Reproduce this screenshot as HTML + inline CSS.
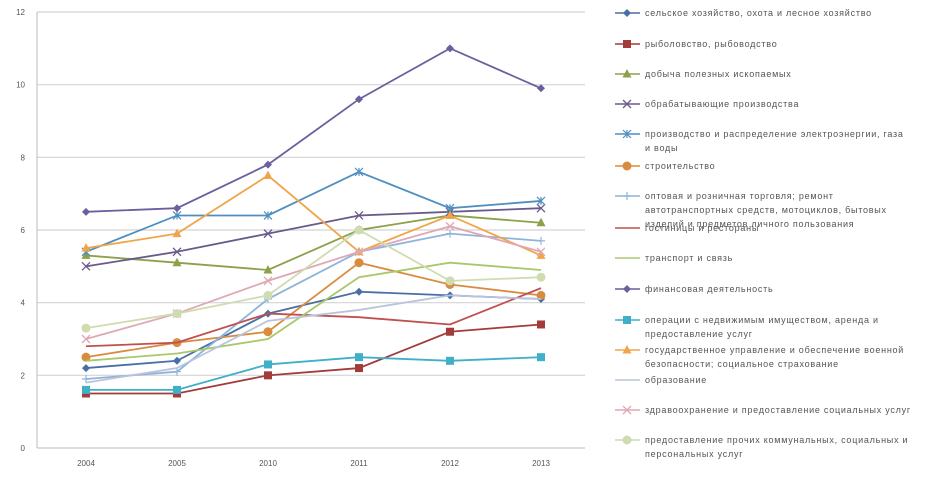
<!DOCTYPE html>
<html><head><meta charset="utf-8">
<style>
html,body{margin:0;padding:0;background:#fff;}
svg{display:block;font-family:"Liberation Sans","DejaVu Sans",sans-serif;}
</style></head>
<body>
<svg id="chart" width="946" height="494" viewBox="0 0 946 494" xmlns="http://www.w3.org/2000/svg">
<g id="grid"></g>
<g id="axes"></g>
<g id="series"></g>
<g id="legend"></g>
</svg>
<script>
const categories = ["2004","2005","2010","2011","2012","2013"];
const yTicks = [0,2,4,6,8,10,12];
const sAgri = [2.2,2.4,3.7,4.3,4.2,4.1];
const sFish = [1.5,1.5,2.0,2.2,3.2,3.4];
const sMining = [5.3,5.1,4.9,6.0,6.4,6.2];
const sManuf = [5.0,5.4,5.9,6.4,6.5,6.6];
const sElec = [5.4,6.4,6.4,7.6,6.6,6.8];
const sConstr = [2.5,2.9,3.2,5.1,4.5,4.2];
const sTrade = [1.9,2.1,4.1,5.4,5.9,5.7];
const sHotels = [2.8,2.9,3.7,3.6,3.4,4.4];
const sTransport = [2.4,2.6,3.0,4.7,5.1,4.9];
const sFinance = [6.5,6.6,7.8,9.6,11.0,9.9];
const sRealty = [1.6,1.6,2.3,2.5,2.4,2.5];
const sGov = [5.5,5.9,7.5,5.4,6.4,5.3];
const sEdu = [1.8,2.2,3.5,3.8,4.2,4.1];
const sHealth = [3.0,3.7,4.6,5.4,6.1,5.4];
const sOther = [3.3,3.7,4.2,6.0,4.6,4.7];
const seriesNames = [
 ["сельское хозяйство, охота и лесное хозяйство"],
 ["рыболовство, рыбоводство"],
 ["добыча полезных ископаемых"],
 ["обрабатывающие производства"],
 ["производство и распределение электроэнергии, газа","и воды"],
 ["строительство"],
 ["оптовая и розничная торговля; ремонт","автотранспортных средств, мотоциклов, бытовых","изделий и предметов личного пользования"],
 ["гостиницы и рестораны"],
 ["транспорт и связь"],
 ["финансовая деятельность"],
 ["операции с недвижимым имуществом, аренда и","предоставление услуг"],
 ["государственное управление и обеспечение военной","безопасности; социальное страхование"],
 ["образование"],
 ["здравоохранение и предоставление социальных услуг"],
 ["предоставление прочих коммунальных, социальных и","персональных услуг"]
];
const seriesData=[sAgri,sFish,sMining,sManuf,sElec,sConstr,sTrade,sHotels,sTransport,sFinance,sRealty,sGov,sEdu,sHealth,sOther];
const styles=[
 {c:"#4a6fa5",m:"diamond"},{c:"#a33b3b",m:"square"},{c:"#8da04a",m:"triangle"},
 {c:"#6a5a8c",m:"x"},{c:"#4f8fbf",m:"star"},{c:"#d98c3f",m:"circle"},
 {c:"#8fb4dc",m:"plus"},{c:"#c0504d",m:"none"},{c:"#a9c86a",m:"none"},
 {c:"#6b5f9e",m:"diamond"},{c:"#3fb0c8",m:"square"},{c:"#f0a54a",m:"triangle"},
 {c:"#b9c4dc",m:"none"},{c:"#e0a8b4",m:"x"},{c:"#cfdcb0",m:"circle"}
];
const legendY=[13,44,74,104,134,166,196,228,258,289,320,350,380,410,440];
const NS="http://www.w3.org/2000/svg";
const X0=37,X1=585,Y0=448,YTOP=12;
function xs(i){return 86+i*91;}
function ys(v){return Y0-(v/12)*(Y0-YTOP);}
function mk(tag,attrs,parent){const e=document.createElementNS(NS,tag);for(const k in attrs)e.setAttribute(k,attrs[k]);parent.appendChild(e);return e;}
const grid=document.getElementById('grid'),axes=document.getElementById('axes'),ser=document.getElementById('series'),leg=document.getElementById('legend');
yTicks.forEach(t=>{
 if(t>0){const g=mk('line',{x1:X0,x2:X1,y1:ys(t),y2:ys(t),stroke:"#d4d4d4","stroke-width":1.2},grid);
 
 }
 const l=mk('text',{x:X0-12,y:ys(t)+3,"font-size":8,"text-anchor":"end",fill:"#555"},axes);l.textContent=t;
 
 
});
const ya=mk('line',{x1:X0,x2:X0,y1:YTOP,y2:Y0,stroke:"#bbb"},axes);


const xa=mk('line',{x1:X0,x2:X1,y1:Y0,y2:Y0,stroke:"#bbb"},axes);


categories.forEach((c,i)=>{
 const t=mk('text',{x:xs(i),y:Y0+18,"font-size":8,"text-anchor":"middle",fill:"#555"},axes);t.textContent=c;
 
 
});
function marker(type,x,y,c,p){
 let e;
 if(type==="diamond")e=mk('polygon',{points:`${x},${y-4} ${x+4},${y} ${x},${y+4} ${x-4},${y}`,fill:c},p);
 else if(type==="square")e=mk('rect',{x:x-4,y:y-4,width:8,height:8,fill:c},p);
 else if(type==="triangle")e=mk('polygon',{points:`${x},${y-5} ${x+4.5},${y+3.5} ${x-4.5},${y+3.5}`,fill:c},p);
 else if(type==="circle")e=mk('circle',{cx:x,cy:y,r:4.5,fill:c},p);
 else if(type==="x")e=mk('path',{d:`M${x-4},${y-4}L${x+4},${y+4}M${x+4},${y-4}L${x-4},${y+4}`,stroke:c,"stroke-width":1.3},p);
 else if(type==="star")e=mk('path',{d:`M${x-4},${y-4}L${x+4},${y+4}M${x+4},${y-4}L${x-4},${y+4}M${x},${y-4}L${x},${y+4}`,stroke:c,"stroke-width":1.2},p);
 else if(type==="plus")e=mk('path',{d:`M${x-4},${y}L${x+4},${y}M${x},${y-4}L${x},${y+4}`,stroke:c,"stroke-width":1.2},p);
 return e;
}
seriesData.forEach((d,si)=>{
 const st=styles[si];
 const g=mk('g',{},ser);
 
 
 const pts=d.map((v,i)=>xs(i)+","+ys(v)).join(" ");
 const pl=mk('polyline',{points:pts,fill:"none",stroke:st.c,"stroke-width":1.8},g);
 
 
 d.forEach((v,i)=>{const m=marker(st.m,xs(i),ys(v),st.c,g);
  if(m){
  }});
 const lg=mk('g',{},leg);
 
 
 const ly=legendY[si];
 mk('line',{x1:615,x2:640,y1:ly,y2:ly,stroke:st.c,"stroke-width":1.5},lg);
 marker(st.m,627,ly,st.c,lg);
 seriesNames[si].forEach((line,k)=>{
  const t=mk('text',{x:645,y:ly+3+k*14,"font-size":9,"letter-spacing":0.75,fill:"#555"},lg);t.textContent=line;
 });
});
</script>
</body></html>
